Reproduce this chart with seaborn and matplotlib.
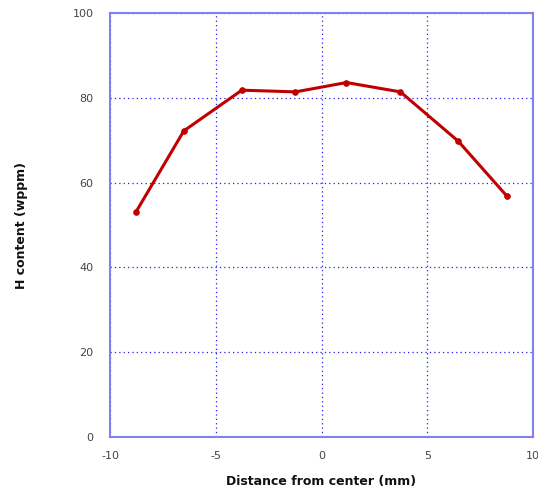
"""Hydrogen content profile across the specimen."""
import matplotlib
matplotlib.use("Agg")
import matplotlib.pyplot as plt
import seaborn as sns
import pandas as pd

# distance from center (mm) and H content (wppm)
distance = [-8.77, -6.51, -3.77, -1.23, 1.18, 3.73, 6.46, 8.77]
h_content = [53.1, 72.2, 81.8, 81.4, 83.6, 81.4, 69.8, 56.8]
x_ticks = [-10, -5, 0, 5, 10]
y_ticks = [0, 20, 40, 60, 80, 100]

df = pd.DataFrame({"distance": distance, "h": h_content})

sns.set_style("white")
plt.rcParams["font.family"] = ["DejaVu Sans"]
plt.rcParams["axes.unicode_minus"] = False

fig = plt.figure(figsize=(5.38, 4.95), dpi=100)
ax = fig.add_axes([0.2045, 0.1172, 0.7862, 0.8565])

sns.lineplot(data=df, x="distance", y="h", ax=ax, color="#c00000",
             linewidth=2.2, marker="o", markersize=4,
             markeredgecolor="#c00000")

ax.set_xlim(-10, 10)
ax.set_ylim(0, 100)
ax.set_xticks(x_ticks)
ax.set_yticks(y_ticks)
ax.grid(True, color="#2020ee", linestyle=(0, (1, 2.5)), linewidth=0.9)
for s in ax.spines.values():
    s.set_color("#8080ee")
    s.set_linewidth(1.5)
ax.tick_params(axis="both", length=0, labelsize=8, labelcolor="#444444", pad=10)
ax.tick_params(axis="y", pad=12)

ax.set_xlabel("Distance from center (mm)", fontsize=9, fontweight="bold",
              color="#111111", labelpad=10)
ax.set_ylabel("H content (wppm)", fontsize=9, fontweight="bold",
              color="#111111", labelpad=32)

fig.savefig("out.png", dpi=100)
